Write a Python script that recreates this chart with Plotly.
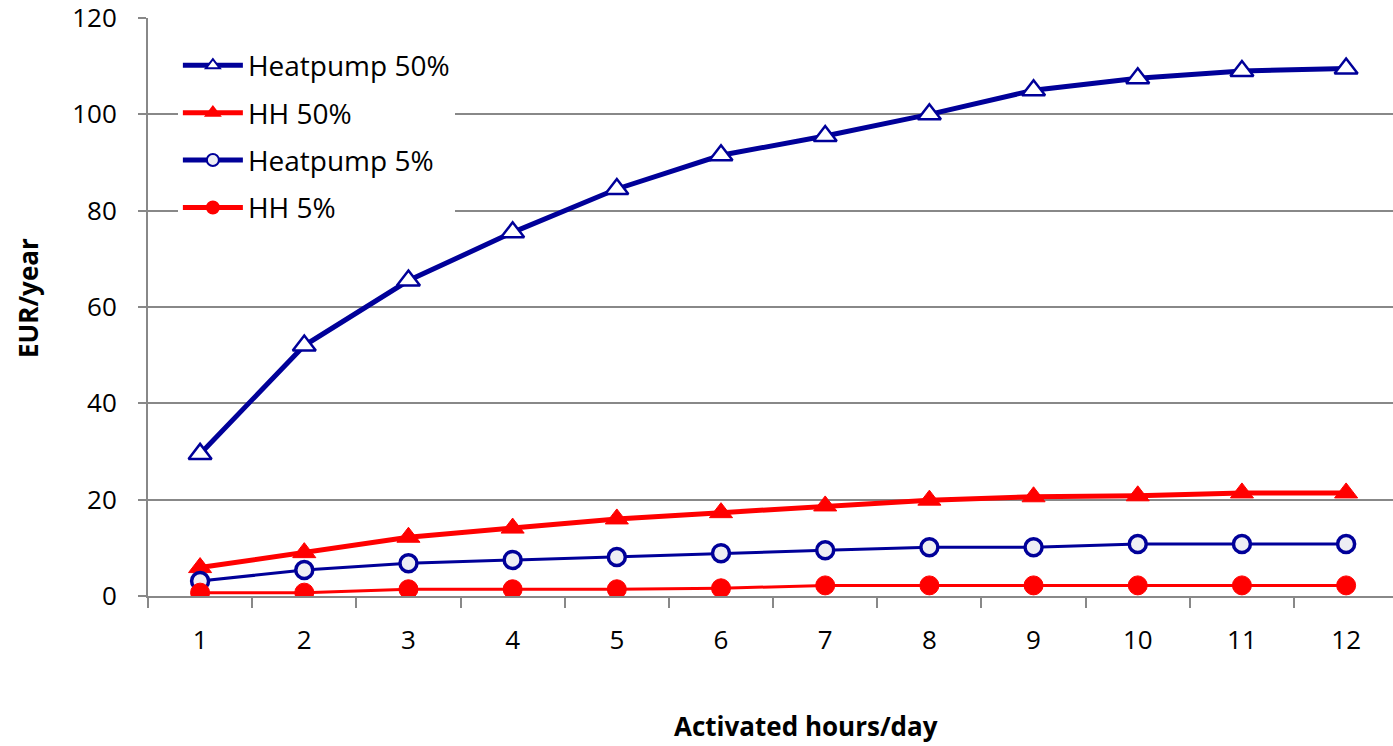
import plotly.graph_objects as go

hours = ["1", "2", "3", "4", "5", "6", "7", "8", "9", "10", "11", "12"]
heatpump_50 = [29.5, 52, 65.5, 75.5, 84.5, 91.5, 95.5, 100, 105, 107.5, 109, 109.5]
hh_50 = [5.9, 9.0, 12.2, 14.1, 16.0, 17.3, 18.7, 19.9, 20.6, 20.8, 21.4, 21.4]
heatpump_5 = [3.1, 5.4, 6.8, 7.5, 8.1, 8.9, 9.5, 10.1, 10.1, 10.8, 10.8, 10.8]
hh_5 = [0.7, 0.7, 1.4, 1.4, 1.4, 1.6, 2.2, 2.2, 2.2, 2.2, 2.2, 2.2]
y_ticks = [0, 20, 40, 60, 80, 100, 120]

NAVY = "#000099"
RED = "#FF0000"
FONT = "Open Sans"

fig = go.Figure()
fig.add_trace(go.Scatter(
    x=hours, y=heatpump_50, name="Heatpump 50%", mode="lines+markers",
    legendgroup="a",
    line=dict(color=NAVY, width=5),
    marker=dict(symbol="triangle-up", size=20, color="white",
                line=dict(color=NAVY, width=2.5))))
fig.add_trace(go.Scatter(
    x=hours, y=hh_50, name="HH 50%", mode="lines+markers",
    legendgroup="b",
    line=dict(color=RED, width=5),
    marker=dict(symbol="triangle-up", size=20, color=RED,
                line=dict(color=RED, width=1))))
fig.add_trace(go.Scatter(
    x=hours, y=heatpump_5, name="Heatpump 5%", mode="lines+markers",
    legendgroup="c",
    line=dict(color=NAVY, width=3),
    marker=dict(symbol="circle", size=17, color="#EEEEF4",
                line=dict(color=NAVY, width=3.5))))
fig.add_trace(go.Scatter(
    x=hours, y=hh_5, name="HH 5%", mode="lines+markers",
    legendgroup="d",
    line=dict(color=RED, width=3),
    marker=dict(symbol="circle", size=19, color=RED,
                line=dict(color=RED, width=1))))

fig.update_layout(
    width=1393, height=746,
    margin=dict(l=148, r=0, t=18, b=150),
    plot_bgcolor="white", paper_bgcolor="white",
    font=dict(family=FONT, size=26, color="black"),
    showlegend=True,
    legend=dict(x=0.024, y=0.961, xanchor="left", yanchor="top",
                bgcolor="white", font=dict(family=FONT, size=28, color="black"),
                tracegroupgap=8, itemwidth=60, itemsizing="constant",
                traceorder="grouped"),
    xaxis=dict(type="category", range=[-0.5, 11.45], tickson="boundaries",
               ticks="outside", ticklen=10, tickwidth=2, tickcolor="#888888",
               showline=True, linecolor="#888888", linewidth=2,
               showgrid=False, ticklabelstandoff=20, automargin=False,
               tickfont=dict(family=FONT, size=26, color="black")),
    yaxis=dict(range=[0, 120], tickvals=y_ticks,
               ticks="outside", ticklen=8, tickwidth=2, tickcolor="#888888",
               showline=True, linecolor="#888888", linewidth=2,
               showgrid=True, gridcolor="#888888", gridwidth=2,
               zeroline=False, ticklabelstandoff=16, ticklabeloverflow="allow",
               automargin=False,
               tickfont=dict(family=FONT, size=26, color="black")),
    annotations=[
        dict(text="<b>Activated hours/day</b>", xref="paper", yref="paper",
             x=(806 - 148) / 1245, y=-130 / 578, xanchor="center", yanchor="middle",
             showarrow=False, font=dict(family=FONT, size=26, color="black")),
        dict(text="<b>EUR/year</b>", xref="paper", yref="paper",
             x=-(148 - 28) / 1245, y=(596 - 298) / 578, xanchor="center",
             yanchor="middle", textangle=-90,
             showarrow=False, font=dict(family=FONT, size=26, color="black")),
    ],
)

# remove the page's default body margin so the figure fills the window exactly
fig.write_html("out.html", config={"displayModeBar": False},
               post_script="document.body.style.margin='0';document.body.style.overflow='hidden';")
